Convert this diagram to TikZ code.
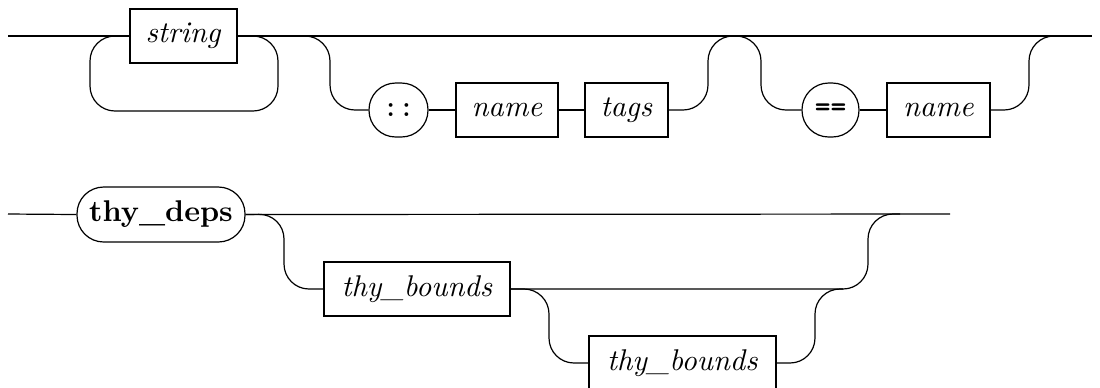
\documentclass[tikz,border=0pt]{standalone}
\newdimen\px \px=0.33333pt
\tikzset{
  rail/.style={line width=0.4pt, rounded corners=25\px},
  ntbox/.style={draw, line width=0.4pt, rectangle, inner sep=0pt, minimum height=54\px},
  tmbox/.style={draw, line width=0.4pt, rectangle, rounded corners=8.9pt, inner sep=0pt, minimum height=54\px},
}
\begin{document}
\begin{tikzpicture}[x=\px, y=-\px]
\useasboundingbox (0,0) rectangle (1100,387);
% ---------- row 1 ----------
\node[ntbox, minimum width=107\px] (string) at (183.5,36) {\textit{string}};
\node[tmbox, minimum width=59\px] (colons) at (398.5,110) {\texttt{::}};
\node[ntbox, minimum width=102\px] (name1) at (507,110) {\textit{name}};
\node[ntbox, minimum width=83\px] (tags) at (626.5,110) {\textit{tags}};
\node[tmbox, minimum width=57\px] (eqeq) at (830.5,110) {\texttt{\bfseries ==}};
\node[ntbox, minimum width=103\px] (name2) at (938.5,110) {\textit{name}};
\coordinate (s1) at (8,36);
\coordinate (e1) at (1092,36);
\coordinate (a0) at (300,36);
\coordinate (b0) at (735,36);
\coordinate (c0) at (1060,36);
\draw[rail] (s1) -- (string.west);
\draw[rail] (string.east) -- (e1);
\draw[rail] (string.west) -- (90,36) -- (90,111) -- (278,111) -- (278,36) -- (string.east);
\draw[rail] (a0) -- (330,36) -- (330,110) -- (colons.west);
\draw[rail] (colons.east) -- (name1.west);
\draw[rail] (name1.east) -- (tags.west);
\draw[rail] (tags.east) -- (708,110) -- (708,36) -- (b0);
\draw[rail] (b0) -- (761,36) -- (761,110) -- (eqeq.west);
\draw[rail] (eqeq.east) -- (name2.west);
\draw[rail] (name2.east) -- (1029,110) -- (1029,36) -- (c0);
% ---------- row 2 ----------
\node[tmbox, minimum width=168\px, minimum height=55\px] (thydeps) at (161,214.5) {\textbf{thy\_deps}};
\node[ntbox, minimum width=186\px] (tb1) at (417,289) {\textit{thy\_bounds}};
\node[ntbox, minimum width=187\px] (tb2) at (682.5,363) {\textit{thy\_bounds}};
\coordinate (s2) at (8,214);
\coordinate (e2) at (950,214);
\coordinate (d0) at (900,214);
\coordinate (f0) at (843,289);
\draw[rail] (s2) -- (thydeps.west);
\draw[rail] (thydeps.east) -- (e2);
\draw[rail] (thydeps.east) -- (284,214) -- (284,289) -- (tb1.west);
\draw[rail] (tb1.east) -- (868,289) -- (868,214) -- (d0);
\draw[rail] (tb1.east) -- (549,289) -- (549,363) -- (tb2.west);
\draw[rail] (tb2.east) -- (815,363) -- (815,289) -- (f0);
\end{tikzpicture}
\end{document}
